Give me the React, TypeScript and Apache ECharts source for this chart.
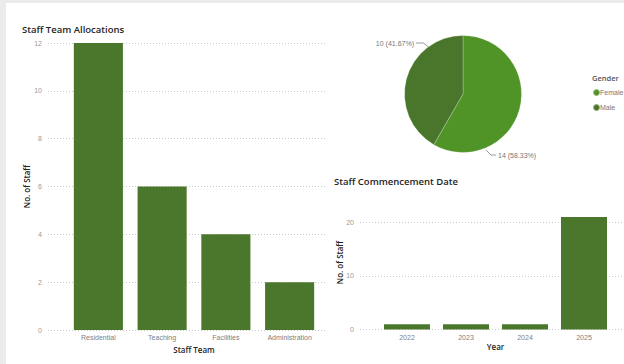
import React, { useEffect, useRef } from "react";
import * as echarts from "echarts";

const teamCategories = ["Residential", "Teaching", "Facilities", "Administration"];
const teamValues = [12, 6, 4, 2];
const genderNames = ["Female", "Male"];
const genderValues = [14, 10];
const yearCategories = ["2022", "2023", "2024", "2025"];
const yearValues = [1, 1, 1, 21];

const BAR = "#4b772c";
const FEMALE = "#509428";
const MALE = "#4a762c";
const FONT = "'Liberation Sans', Arial, sans-serif";
const SEMI = "'Open Sans', 'Liberation Sans', sans-serif";
const TITLE = "#252423";
const GRID_LINE = { show: true, lineStyle: { color: "#c8c8c8", type: [1, 2] as any, width: 1 } };

export default function App() {
  const ref = useRef<HTMLDivElement>(null);
  useEffect(() => {
    if (!ref.current) return;
    const chart = echarts.init(ref.current, undefined, { renderer: "svg" });
    const total = genderValues.reduce((a, b) => a + b, 0);
    const pieLabelLayouts = [
      { x: 498, y: 155, align: "left", verticalAlign: "middle", labelLinePoints: [[486, 150], [491, 155], [496, 155]] },
      { x: 414, y: 43, align: "right", verticalAlign: "middle", labelLinePoints: [[428.5, 47], [423.5, 43], [416, 43]] },
    ];
    chart.setOption({
      animation: false,
      backgroundColor: "transparent",
      textStyle: { fontFamily: FONT },
      title: [
        { text: "Staff Team Allocations", left: 22, top: 24, padding: 0, textStyle: { fontFamily: SEMI, fontSize: 9.5, fontWeight: 600, color: TITLE } },
        { text: "Staff Commencement Date", left: 334, top: 176, padding: 0, textStyle: { fontFamily: SEMI, fontSize: 9.5, fontWeight: 600, color: TITLE } },
        { text: "Gender", left: 592, top: 74, padding: 0, textStyle: { fontFamily: SEMI, fontSize: 7.5, fontWeight: 600, color: "#555" } },
      ],
      legend: {
        orient: "vertical",
        left: 592,
        top: 88,
        padding: 0,
        itemWidth: 7,
        itemHeight: 7,
        itemGap: 6,
        icon: "circle",
        data: genderNames,
        textStyle: { fontFamily: FONT, fontSize: 7, color: "#777", padding: [0, 0, 0, -5] },
      },
      grid: [
        { left: 48, right: 299, top: 43, bottom: 34 },
        { left: 66.5, right: 302.5, top: 43, bottom: 34 },
        { left: 360, right: 1, top: 222.3, bottom: 34.5 },
        { left: 377.5, right: 10.5, top: 195.5, bottom: 34.5 },
      ],
      xAxis: [
        { gridIndex: 0, type: "value", show: false },
        {
          gridIndex: 1, type: "category", data: teamCategories,
          axisLine: { show: false }, axisTick: { show: false },
          axisLabel: { fontSize: 7, color: "#808080", margin: 4, fontFamily: FONT },
          name: "Staff Team", nameLocation: "middle", nameGap: 13,
          nameTextStyle: { fontSize: 8, fontWeight: 600, color: TITLE, fontFamily: SEMI },
        },
        { gridIndex: 2, type: "value", show: false },
        {
          gridIndex: 3, type: "category", data: yearCategories,
          axisLine: { show: false }, axisTick: { show: false },
          axisLabel: { fontSize: 7, color: "#808080", margin: 4, fontFamily: FONT },
          name: "Year", nameLocation: "middle", nameGap: 13,
          nameTextStyle: { fontSize: 8, fontWeight: 600, color: TITLE, fontFamily: SEMI },
        },
      ],
      yAxis: [
        {
          gridIndex: 0, type: "value", min: 0, max: 12, interval: 2,
          axisLine: { show: false }, axisTick: { show: false },
          axisLabel: { fontSize: 7, color: "#999", margin: 6, fontFamily: FONT },
          splitLine: GRID_LINE,
          name: "No. of Staff", nameLocation: "middle", nameGap: 18, nameRotate: 90,
          nameTextStyle: { fontSize: 8, fontWeight: 600, color: TITLE, fontFamily: SEMI },
        },
        { gridIndex: 1, type: "value", min: 0, max: 12, show: false },
        {
          gridIndex: 2, type: "value", min: 0, max: 20, interval: 10,
          axisLine: { show: false }, axisTick: { show: false },
          axisLabel: { fontSize: 7, color: "#999", margin: 6, fontFamily: FONT },
          splitLine: GRID_LINE,
        },
        {
          gridIndex: 3, type: "value", min: 0, max: 25,
          axisLine: { show: false }, axisTick: { show: false }, axisLabel: { show: false }, splitLine: { show: false },
          name: "No. of Staff", nameLocation: "middle", nameGap: 34, nameRotate: 90,
          nameTextStyle: { fontSize: 8, fontWeight: 600, color: TITLE, fontFamily: SEMI },
        },
      ],
      series: [
        {
          type: "bar", xAxisIndex: 1, yAxisIndex: 1, data: teamValues,
          barCategoryGap: "23%", itemStyle: { color: BAR },
        },
        {
          type: "bar", xAxisIndex: 3, yAxisIndex: 3, data: yearValues,
          barCategoryGap: "22%", itemStyle: { color: BAR },
        },
        {
          type: "pie",
          center: [463, 94],
          radius: 58.5,
          startAngle: 90,
          clockwise: true,
          data: genderNames.map((n, i) => ({ name: n, value: genderValues[i], itemStyle: { color: i === 0 ? FEMALE : MALE } })),
          itemStyle: { borderColor: "rgba(255,255,255,0.4)", borderWidth: 0.6 },
          label: {
            show: true,
            position: "outside",
            fontSize: 7,
            color: "#777",
            fontFamily: FONT,
            formatter: (p: any) => `${p.value} (${((p.value / total) * 100).toFixed(2)}%)`,
          },
          labelLine: { show: true, lineStyle: { color: "#999", width: 1 } },
          labelLayout: (p: any) => pieLabelLayouts[p.dataIndex],
        },
      ],
    });
    return () => chart.dispose();
  }, []);
  return (
    <div style={{ position: "fixed", left: 0, top: 0, width: 624, height: 364, background: "#ebebeb", overflow: "hidden" }}>
      <div style={{ position: "absolute", left: 6, top: 3, width: 618, height: 361, background: "#fff" }} />
      <div ref={ref} style={{ position: "absolute", left: 0, top: 0, width: 624, height: 364 }} />
    </div>
  );
}
